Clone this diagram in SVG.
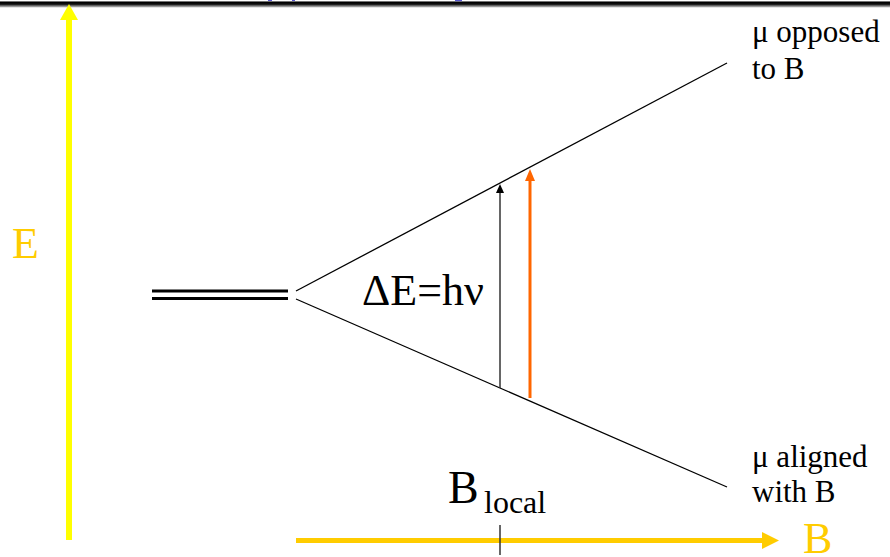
<svg xmlns="http://www.w3.org/2000/svg" width="890" height="557" viewBox="0 0 890 557">
<defs>
<style>
.t{font-family:"Liberation Serif","Times New Roman",serif;fill:#000}
.y{fill:#ffcc00}
.ln{stroke:#000;stroke-width:1.3;fill:none}
</style>
<linearGradient id="bar" x1="0" y1="0" x2="0" y2="1">
<stop offset="0" stop-color="#bbbbbb"/>
<stop offset="0.2" stop-color="#000"/>
<stop offset="0.5" stop-color="#111"/>
<stop offset="0.75" stop-color="#777"/>
<stop offset="1" stop-color="#cccccc"/>
</linearGradient>
</defs>
<rect width="890" height="557" fill="#fff"/>
<g id="title-bar">
<rect x="0" y="1" width="890" height="6.5" fill="url(#bar)"/>
<rect x="268" y="0" width="4" height="1" fill="#5555cc"/>
<rect x="292" y="0" width="3" height="1" fill="#5555cc"/>
<rect x="455" y="0" width="7" height="1.2" fill="#5555cc"/>
</g>
<g id="connectors">
<line x1="69" y1="540" x2="69" y2="18" stroke="#ffff00" stroke-width="6"/>
<polygon points="69,4 78,20 60,20" fill="#ffff00"/>
<line x1="296" y1="540.5" x2="764" y2="540.5" stroke="#ffcc00" stroke-width="5"/>
<polygon points="779,540.5 762,532 762,549" fill="#ffcc00"/>
<line x1="500" y1="525" x2="500" y2="555" stroke="#333" stroke-width="1.5"/>
<line x1="152" y1="291" x2="288" y2="291" stroke="#000" stroke-width="3"/>
<line x1="152" y1="298.5" x2="288" y2="298.5" stroke="#000" stroke-width="3"/>
<line class="ln" x1="296" y1="291" x2="727" y2="63"/>
<line class="ln" x1="296" y1="299" x2="727" y2="487"/>
<line x1="500" y1="388" x2="500" y2="192" stroke="#333" stroke-width="1.5"/>
<polygon points="500,184 504,193 496,193" fill="#000"/>
<line x1="530" y1="398" x2="530" y2="180" stroke="#ff6600" stroke-width="3"/>
<polygon points="530,169 535,181 525,181" fill="#ff6600"/>
</g>
<g id="label-E"><text class="t y" x="12" y="258" font-size="44">E</text></g>
<g id="label-dE"><text class="t" x="362" y="305" font-size="44">ΔE=hν</text></g>
<g id="label-opposed"><text class="t" font-size="31"><tspan x="752" y="42">μ opposed</tspan><tspan x="752" y="79">to B</tspan></text></g>
<g id="label-aligned"><text class="t" font-size="31"><tspan x="752" y="467">μ aligned</tspan><tspan x="752" y="502">with B</tspan></text></g>
<g id="label-Blocal"><text class="t" x="448" y="503" font-size="46">B</text><text class="t" x="484" y="513" font-size="32">local</text></g>
<g id="label-B"><text class="t y" x="803" y="553" font-size="44">B</text></g>
</svg>
